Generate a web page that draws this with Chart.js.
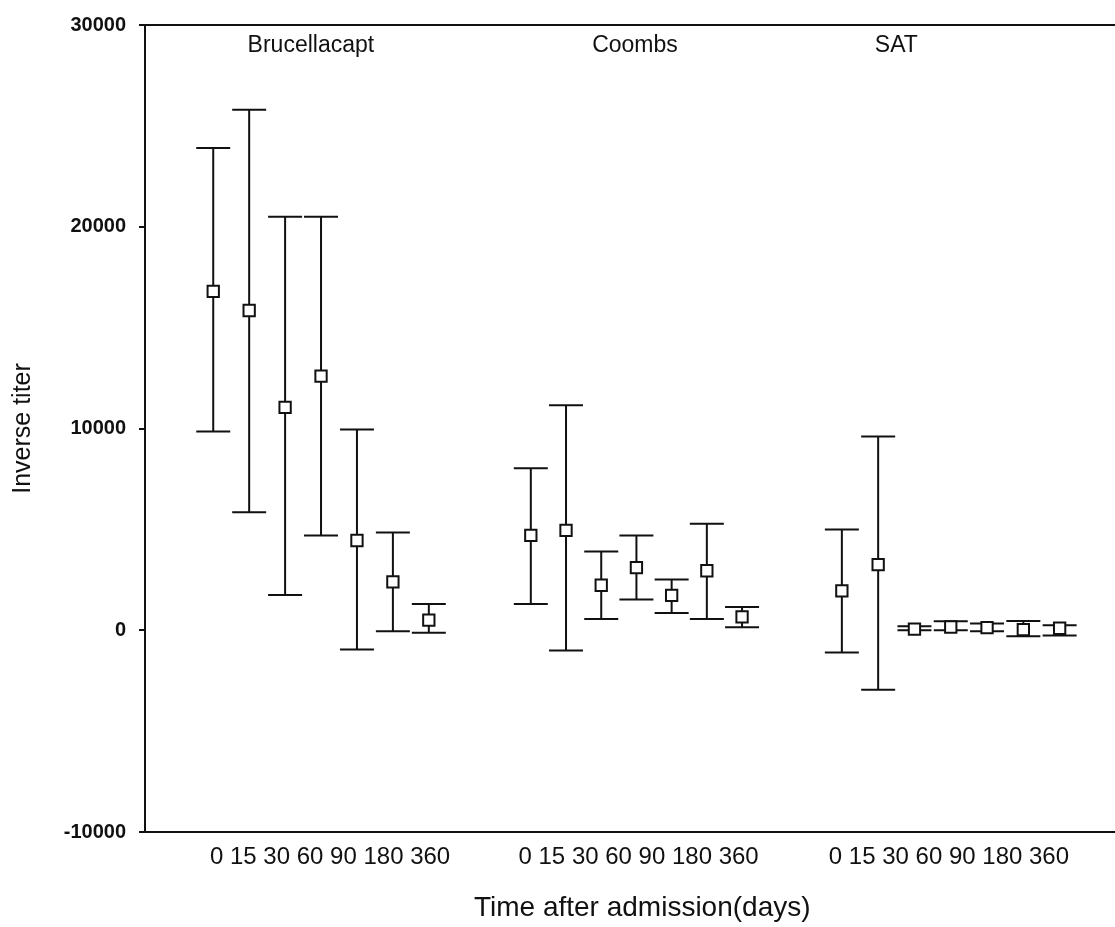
<!DOCTYPE html>
<html>
<head>
<meta charset="utf-8">
<script src="https://cdn.jsdelivr.net/npm/chart.js@4.4.1/dist/chart.umd.min.js"></script>
<style>
  html, body { margin: 0; padding: 0; background: #fff; }
  #wrap { width: 1115px; height: 927px; }
</style>
</head>
<body>
<div id="wrap"><canvas id="chartTiter" width="1115" height="927"></canvas></div>
<script>
// ---- data ----
const groups = ['Brucellacapt', 'Coombs', 'SAT'];
const days = ['0', '15', '30', '60', '90', '180', '360'];
const yTicks = [-10000, 0, 10000, 20000, 30000];

const bruMean = [16800, 15850, 11050, 12600, 4450, 2400, 500];
const bruLow  = [9850, 5850, 1750, 4700, -950, -50, -130];
const bruHigh = [23900, 25800, 20500, 20500, 9950, 4850, 1300];

const coombsMean = [4700, 4950, 2230, 3100, 1730, 2950, 660];
const coombsLow  = [1300, -1000, 560, 1520, 860, 560, 150];
const coombsHigh = [8030, 11150, 3900, 4700, 2520, 5280, 1150];

const satMean = [1950, 3250, 60, 160, 130, 30, 100];
const satLow  = [-1100, -2950, 0, 0, -50, -300, -260];
const satHigh = [5000, 9600, 200, 450, 330, 460, 250];

const means = [bruMean, coombsMean, satMean];
const lows = [bruLow, coombsLow, satLow];
const highs = [bruHigh, coombsHigh, satHigh];

// ---- layout (x axis units) ----
const xStart = [1.88, 10.63, 19.2];
const xStep = [0.99, 0.97, 1.0];
const titleX = [4.57, 13.5, 20.7];
const labelX = [5.1, 13.6, 22.15];
const xTitleX = 13.7;
const xMax = 26.45;
const ink = '#111';
const capHalf = 17;
const fontFamily = '"Liberation Sans", Arial, sans-serif';

const datasets = groups.map((g, gi) => ({
    label: g,
    data: days.map((d, i) => ({ x: xStart[gi] + i * xStep[gi], y: means[gi][i], lo: lows[gi][i], hi: highs[gi][i] })),
    pointStyle: 'rect',
    pointRadius: 8,
    borderWidth: 2,
    borderColor: ink,
    backgroundColor: '#fff',
    showLine: false
}));

const errorBars = {
    id: 'errorBars',
    beforeDatasetsDraw(chart) {
        const ctx = chart.ctx, xs = chart.scales.x, ys = chart.scales.y;
        ctx.save();
        ctx.strokeStyle = ink;
        ctx.lineWidth = 2;
        chart.data.datasets.forEach(ds => {
            ds.data.forEach(p => {
                const px = xs.getPixelForValue(p.x);
                const yl = ys.getPixelForValue(p.lo);
                const yh = ys.getPixelForValue(p.hi);
                ctx.beginPath();
                ctx.moveTo(px, yl); ctx.lineTo(px, yh);
                ctx.moveTo(px - capHalf, yl); ctx.lineTo(px + capHalf, yl);
                ctx.moveTo(px - capHalf, yh); ctx.lineTo(px + capHalf, yh);
                ctx.stroke();
            });
        });
        ctx.restore();
    }
};

const frameAndTitles = {
    id: 'frameAndTitles',
    afterDraw(chart) {
        const ctx = chart.ctx, a = chart.chartArea, xs = chart.scales.x;
        ctx.save();
        // top and bottom frame lines run to the edge of the picture
        ctx.strokeStyle = ink;
        ctx.lineWidth = 2;
        ctx.beginPath();
        ctx.moveTo(a.left - 6, a.top);
        ctx.lineTo(chart.width, a.top);
        ctx.moveTo(a.left, a.bottom);
        ctx.lineTo(chart.width, a.bottom);
        ctx.stroke();
        ctx.fillStyle = ink;
        ctx.textAlign = 'center';
        ctx.textBaseline = 'middle';
        // group titles
        ctx.font = '23px ' + fontFamily;
        groups.forEach((g, gi) => ctx.fillText(g, xs.getPixelForValue(titleX[gi]), a.top + 21));
        // x axis title
        ctx.font = '28px ' + fontFamily;
        ctx.fillText('Time after admission(days)', xs.getPixelForValue(xTitleX), a.bottom + 76);
        ctx.restore();
    }
};

new Chart(document.getElementById('chartTiter'), {
    type: 'scatter',
    data: { datasets: datasets },
    options: {
        responsive: false,
        animation: false,
        layout: { padding: { top: 24, right: 0, left: 0, bottom: 0 } },
        plugins: { legend: { display: false }, tooltip: { enabled: false } },
        scales: {
            x: {
                type: 'linear',
                min: 0,
                max: xMax,
                afterFit: s => { s.height = 95; },
                afterBuildTicks: s => { s.ticks = labelX.map(v => ({ value: v })); },
                grid: { drawOnChartArea: false, drawTicks: false },
                border: { display: true, color: ink, width: 2 },
                ticks: {
                    autoSkip: false, maxRotation: 0, padding: 11, color: ink,
                    font: { family: fontFamily, size: 24 },
                    callback: () => days.join(' ')
                }
            },
            y: {
                min: -10000,
                max: 30000,
                afterFit: s => { s.width = 145; },
                afterBuildTicks: s => { s.ticks = yTicks.map(v => ({ value: v })); },
                grid: { drawOnChartArea: false, drawTicks: true, tickLength: 6, color: ink, lineWidth: 2 },
                border: { display: true, color: ink, width: 2 },
                ticks: {
                    padding: 13, color: ink,
                    font: { family: fontFamily, size: 20, weight: 'bold' },
                    callback: v => String(v)
                },
                title: {
                    display: true, text: 'Inverse titer', color: ink,
                    font: { family: fontFamily, size: 25 },
                    padding: { top: 8, bottom: 0 }
                }
            }
        }
    },
    plugins: [errorBars, frameAndTitles]
});
</script>
</body>
</html>
